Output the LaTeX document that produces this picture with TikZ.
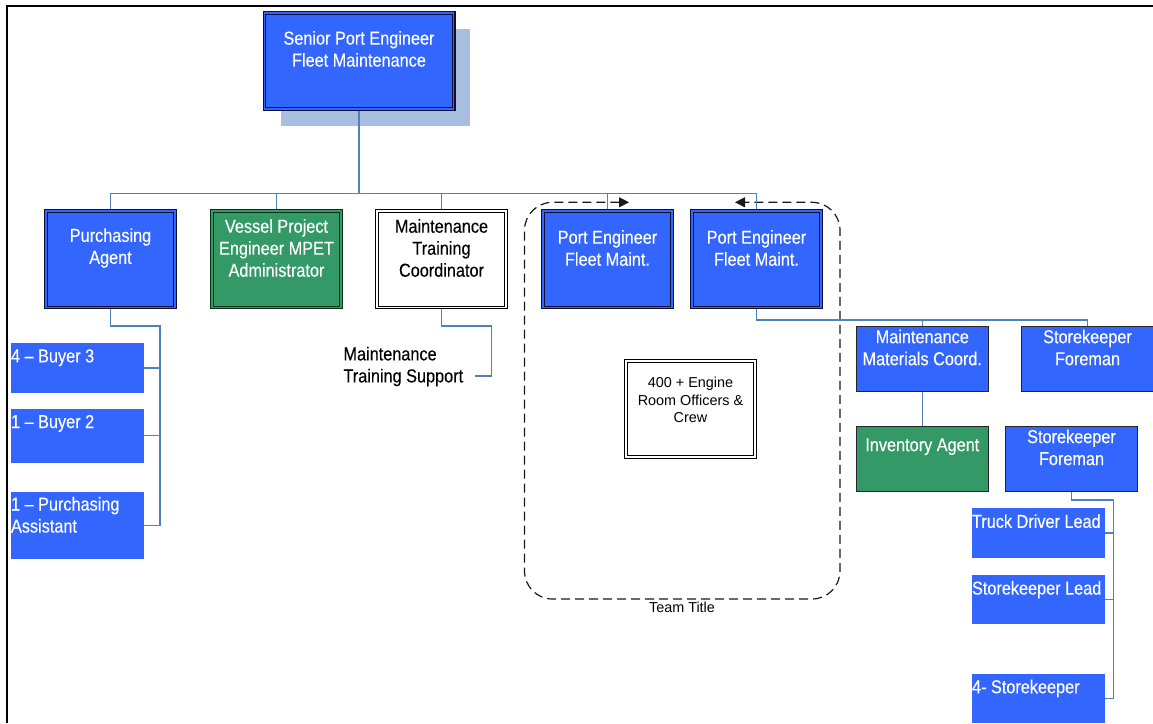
\documentclass[tikz,border=0pt]{standalone}
\usepackage{fontspec}
\setmainfont{Liberation Sans}[FakeStretch=0.87,FakeBold=0.25]
\newfontfamily\arialfont{Liberation Sans}
\usetikzlibrary{arrows.meta,shadows}
\definecolor{boxblue}{RGB}{51,102,255}
\definecolor{boxgreen}{RGB}{51,153,102}
\definecolor{shadowblue}{RGB}{168,190,224}
\definecolor{connblue}{RGB}{79,129,189}
\definecolor{navyline}{RGB}{15,15,50}
\definecolor{greenline}{RGB}{10,50,25}
\newcommand\orgfont{\fontsize{18.7pt}{22pt}\selectfont}
\newcommand\smallorgfont{\arialfont\fontsize{14.4pt}{17.2pt}\selectfont}
\tikzset{
  dblbox/.style={double distance=1.6pt, line width=1.1pt, outer sep=1.9pt, inner sep=0pt,
    minimum width=129.2pt, minimum height=96.2pt},
  bluedbl/.style={dblbox, draw=navyline, double=boxblue, fill=boxblue},
  greendbl/.style={dblbox, draw=greenline, double=boxgreen, fill=boxgreen},
  whitedbl/.style={dblbox, draw=black, double=white, fill=white},
  singlebox/.style={draw=black!85, line width=0.9pt, inner sep=0pt, outer sep=0.45pt,
    minimum width=131.6pt, minimum height=65.4pt},
  leafbox/.style={fill=boxblue, inner sep=0pt, minimum width=133pt},
  ctext/.style={align=center, text=white, font=\orgfont, inner sep=0pt},
  ltext/.style={align=left, text=white, font=\orgfont, inner sep=0pt, anchor=north west},
  conn/.style={draw=connblue, line width=1.2pt},
  teamline/.style={draw=black!90, line width=1.2pt, dash pattern=on 9pt off 5pt,
    rounded corners=28pt},
}
\begin{document}
\begin{tikzpicture}[x=1pt,y=-1pt]
\useasboundingbox (0,0) rectangle (1153,723);
% frame
\draw[line width=2.3pt] (7,723) -- (7,6.3) -- (1153,6.3);

% top
\node[bluedbl, minimum width=189.2pt, drop shadow={shadow xshift=16.5pt, shadow yshift=-16.5pt, fill=shadowblue, opacity=1}] (senior) at (359,60.9) {};
\node[ctext] (tsenior) at ([yshift=12pt]senior.center) {Senior Port Engineer\\Fleet Maintenance};

% level 2
\node[bluedbl] (purch) at (110.5,259.3) {};
\node[ctext] (tpurch) at ([yshift=11.3pt]purch.center) {Purchasing\\Agent};
\node[greendbl] (vessel) at (276.5,259.3) {};
\node[ctext] (tvessel) at ([yshift=11.3pt]vessel.center) {Vessel Project\\Engineer MPET\\Administrator};
\node[whitedbl] (mtc) at (441.5,259.3) {};
\node[ctext, text=black] (tmtc) at ([yshift=11.3pt]mtc.center) {Maintenance\\Training\\Coordinator};
\node[bluedbl] (pe1) at (607.5,259.3) {};
\node[ctext] (tpe1) at ([yshift=11.3pt]pe1.center) {Port Engineer\\Fleet Maint.};
\node[bluedbl] (pe2) at (756.5,259.3) {};
\node[ctext] (tpe2) at ([yshift=11.3pt]pe2.center) {Port Engineer\\Fleet Maint.};

% purchasing staff
\node[leafbox, minimum height=49.4pt] (buyer3) at (77.5,368) {};
\node[ltext] (tbuyer3) at ([yshift=-6pt]buyer3.north west) {4 – Buyer 3};
\node[leafbox, minimum height=53.7pt] (buyer2) at (77.5,435.8) {};
\node[ltext] (tbuyer2) at ([yshift=-6pt]buyer2.north west) {1 – Buyer 2};
\node[leafbox, minimum height=66.7pt] (passist) at (77.5,525.3) {};
\node[ltext] (tpassist) at ([yshift=-5pt]passist.north west) {1 – Purchasing\\Assistant};

% training support
\node[align=left, anchor=north west, inner sep=0pt, font=\orgfont] (mts) at (343.3,346.6) {Maintenance\\Training Support};
\coordinate (mtsend) at (474.7,376);

% crew box + team
\node[whitedbl] (crew) at (690.5,409) {};
\node[align=center, inner sep=0pt, font=\smallorgfont] (tcrew) at ([yshift=9pt]crew.center) {400 + Engine\\Room Officers \&\\Crew};
\node[inner sep=0pt, font=\smallorgfont] (team) at (682,607) {Team Title};
\coordinate (arrL) at (629,202.3);
\coordinate (arrR) at (735,202.3);
\draw[teamline, {Triangle[length=10pt,width=10pt]}-{Triangle[length=10pt,width=10pt]}]
  (arrL) -- (524.5,202.3) -- (524.5,599) -- (840,599) -- (840,202.3) -- (arrR);

% right side
\node[singlebox, fill=boxblue] (mmc) at (922.3,358.8) {};
\node[ctext] (tmmc) at ([yshift=11.3pt]mmc.center) {Maintenance\\Materials Coord.};
\node[singlebox, fill=boxblue] (sf1) at (1087.5,358.8) {};
\node[ctext] (tsf1) at ([yshift=11.3pt]sf1.center) {Storekeeper\\Foreman};
\node[singlebox, fill=boxgreen] (inv) at (922.3,458.7) {};
\node[ctext] (tinv) at ([yshift=12pt]inv.center) {Inventory Agent};
\node[singlebox, fill=boxblue] (sf2) at (1071.5,458.7) {};
\node[ctext] (tsf2) at ([yshift=11.3pt]sf2.center) {Storekeeper\\Foreman};

\node[leafbox, minimum height=49.4pt] (truck) at (1038.5,533) {};
\node[ltext] (ttruck) at ([yshift=-6pt]truck.north west) {Truck Driver Lead};
\node[leafbox, minimum height=49.4pt] (sklead) at (1038.5,599.7) {};
\node[ltext] (tsklead) at ([yshift=-6pt]sklead.north west) {Storekeeper Lead};
\node[leafbox, minimum height=49.4pt] (sk4) at (1038.5,698.4) {};
\node[ltext] (tsk4) at ([yshift=-6pt]sk4.north west) {4- Storekeeper};

% connectors
\coordinate (bus) at (359,193.3);
\draw[conn] (senior.south) -- (bus);
\draw[conn] (purch.north) |- (bus) -| (pe2.north);
\draw[conn] (vessel.north) -- (vessel.north |- bus);
\draw[conn] (mtc.north) -- (mtc.north |- bus);
\draw[conn] (pe1.north) -- (pe1.north |- bus);

\coordinate (pj) at (160,326);
\draw[conn] (purch.south) |- (pj) |- (passist.east);
\draw[conn] (buyer3.east) -- (buyer3.east -| pj);
\draw[conn] (buyer2.east) -- (buyer2.east -| pj);

\coordinate (mj) at (491.7,326);
\draw[conn] (mtc.south) |- (mj) |- (mtsend);

\coordinate (b2) at (922.3,320);
\draw[conn] (pe2.south) |- (sf1.north |- b2) -- (sf1.north);
\draw[conn] (mmc.north) -- (mmc.north |- b2);
\draw[conn] (mmc.south) -- (inv.north);

\coordinate (sj) at (1113.3,500);
\draw[conn] (sf2.south) |- (sj) |- (sk4.east);
\draw[conn] (truck.east) -- (truck.east -| sj);
\draw[conn] (sklead.east) -- (sklead.east -| sj);
\end{tikzpicture}
\end{document}
